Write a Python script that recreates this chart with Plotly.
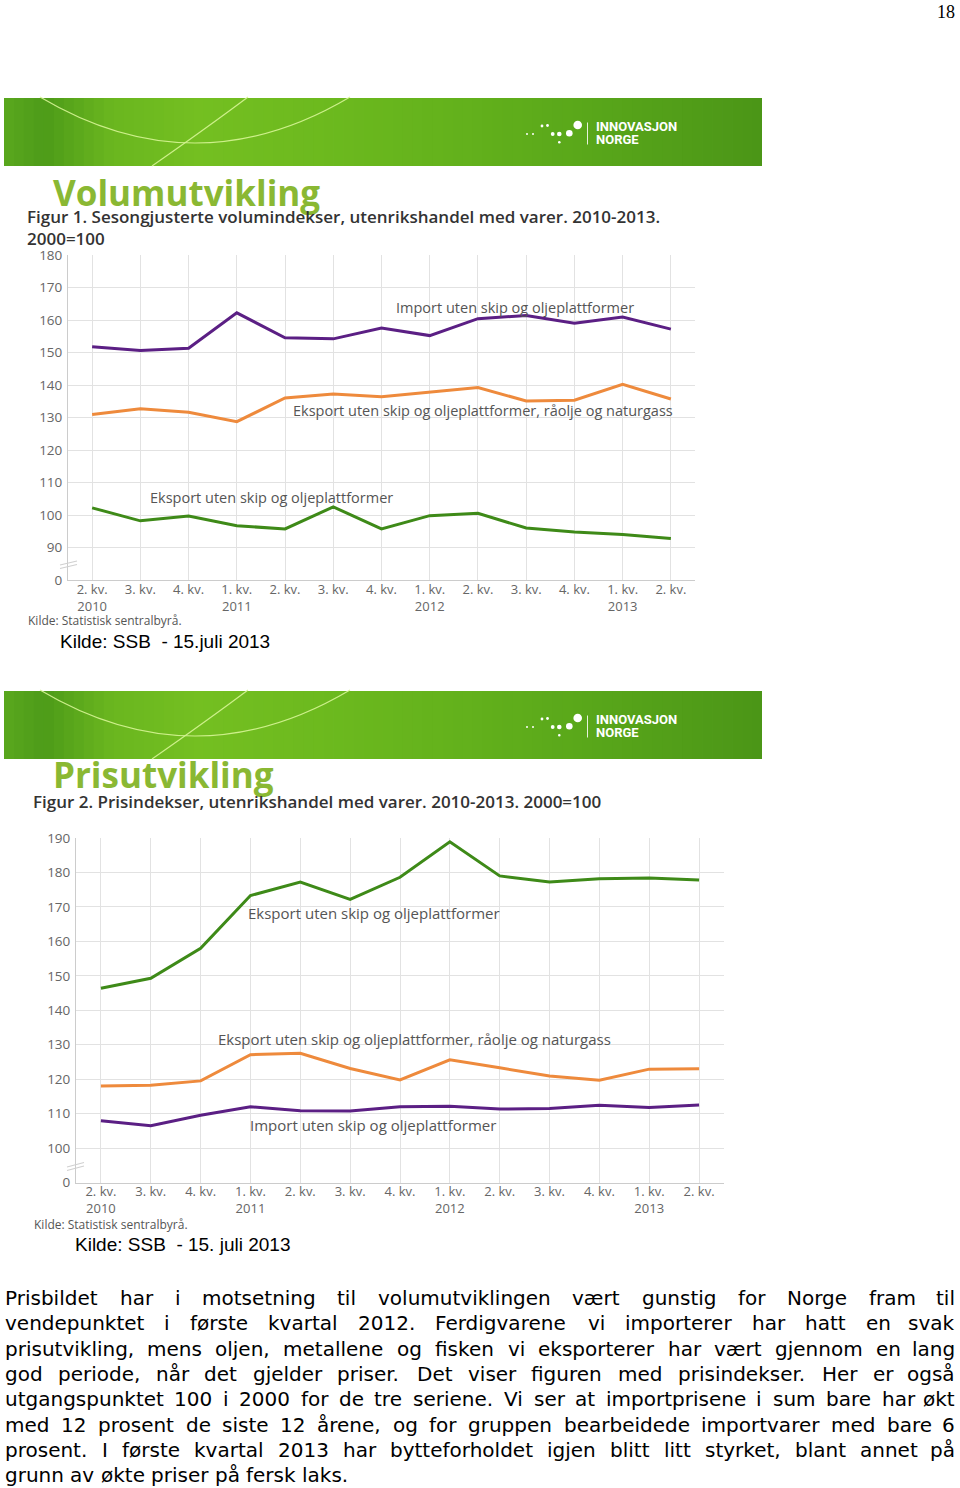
import plotly.graph_objects as go

W, H = 960, 1488


def px(x):
    return x / W


def py(y):
    return 1 - y / H


# ---------------- data ----------------
quarters = ["2. kv.", "3. kv.", "4. kv.", "1. kv.", "2. kv.", "3. kv.", "4. kv.",
            "1. kv.", "2. kv.", "3. kv.", "4. kv.", "1. kv.", "2. kv."]
years = ["2010", "", "", "2011", "", "", "", "2012", "", "", "", "2013", ""]

label_import = "Import uten skip og oljeplattformer"
label_eksport_total = "Eksport uten skip og oljeplattformer, råolje og naturgass"
label_eksport = "Eksport uten skip og oljeplattformer"

# Figur 1 - volumindekser
vol_import = [151.8, 150.6, 151.3, 162.2, 154.5, 154.2, 157.5, 155.2, 160.4, 161.4, 159.0, 160.9, 157.2]
vol_eksport_total = [130.9, 132.7, 131.6, 128.7, 136.0, 137.2, 136.4, 137.8, 139.2, 135.1, 135.3, 140.2, 135.7]
vol_eksport = [102.2, 98.2, 99.7, 96.7, 95.7, 102.5, 95.7, 99.8, 100.5, 96.0, 94.8, 94.0, 92.8]
vol_tickvals = [80, 90, 100, 110, 120, 130, 140, 150, 160, 170, 180]
vol_ticktext = ["0", "90", "100", "110", "120", "130", "140", "150", "160", "170", "180"]

# Figur 2 - prisindekser
pris_eksport = [146.4, 149.3, 158.0, 173.3, 177.2, 172.2, 178.6, 188.9, 179.0, 177.2, 178.2, 178.4, 177.8]
pris_eksport_total = [118.0, 118.2, 119.5, 127.1, 127.5, 123.1, 119.8, 125.6, 123.3, 120.9, 119.7, 122.9, 123.0]
pris_import = [107.9, 106.5, 109.5, 112.0, 110.8, 110.75, 112.0, 112.1, 111.3, 111.5, 112.4, 111.8, 112.5]
pris_tickvals = [90, 100, 110, 120, 130, 140, 150, 160, 170, 180, 190]
pris_ticktext = ["0", "100", "110", "120", "130", "140", "150", "160", "170", "180", "190"]

paragraph_lines = [
    "Prisbildet har i motsetning til volumutviklingen vært gunstig for Norge fram til",
    "vendepunktet i første kvartal 2012. Ferdigvarene vi importerer har hatt en svak",
    "prisutvikling, mens oljen, metallene og fisken vi eksporterer har vært gjennom en lang",
    "god periode, når det gjelder priser. Det viser figuren med prisindekser. Her er også",
    "utgangspunktet 100 i 2000 for de tre seriene. Vi ser at importprisene i sum bare har økt",
    "med 12 prosent de siste 12 årene, og for gruppen bearbeidede importvarer med bare 6",
    "prosent. I første kvartal 2013 har bytteforholdet igjen blitt litt styrket, blant annet på",
    "grunn av økte priser på fersk laks.",
]

# ---------------- styles ----------------
C_PURPLE = "#5b1f84"
C_ORANGE = "#ee8a3c"
C_GREEN = "#3e8a18"
GRID = "#e2e2e2"
YTICK_FONT = dict(family="Open Sans", size=13.5, color="#666666")
XTICK_FONT = dict(family="Open Sans", size=13, color="#666666")
LAB_FONT = dict(family="Open Sans", size=14.5, color="#555555")

fig = go.Figure()
xs = list(range(len(quarters)))
xticktext = [q + ("<br>" + y if y else "") for q, y in zip(quarters, years)]

for ys, col in [(vol_import, C_PURPLE), (vol_eksport_total, C_ORANGE), (vol_eksport, C_GREEN)]:
    fig.add_trace(go.Scatter(x=xs, y=ys, mode="lines", line=dict(color=col, width=3),
                             xaxis="x", yaxis="y", hoverinfo="skip", showlegend=False))
for ys, col in [(pris_eksport, C_GREEN), (pris_eksport_total, C_ORANGE), (pris_import, C_PURPLE)]:
    fig.add_trace(go.Scatter(x=xs, y=ys, mode="lines", line=dict(color=col, width=3),
                             xaxis="x2", yaxis="y2", hoverinfo="skip", showlegend=False))

common_x = dict(range=[-0.5, 12.5], tickmode="array", tickvals=xs, ticktext=xticktext,
                showgrid=True, gridcolor=GRID, gridwidth=1, showline=True, linecolor="#cccccc",
                linewidth=1, ticks="", tickfont=XTICK_FONT, zeroline=False, fixedrange=True,
                ticklabelstandoff=-3, automargin=False)
common_y = dict(tickmode="array", showgrid=True, gridcolor=GRID, gridwidth=1, showline=True,
                linecolor="#cccccc", linewidth=1, ticks="", tickfont=YTICK_FONT, zeroline=False,
                fixedrange=True, ticklabelstandoff=2, automargin=False)

fig.update_layout(
    xaxis=dict(domain=[px(68), px(695)], anchor="y", **common_x),
    yaxis=dict(domain=[py(580), py(255)], anchor="x", range=[80, 180],
               tickvals=vol_tickvals, ticktext=vol_ticktext, **common_y),
    xaxis2=dict(domain=[px(76), px(724)], anchor="y2", **common_x),
    yaxis2=dict(domain=[py(1182.5), py(838)], anchor="x2", range=[90, 190],
                tickvals=pris_tickvals, ticktext=pris_ticktext, **common_y),
)

shapes = []
annotations = []


def ann(x, y, text, font, xanchor="left", yanchor="middle", **kw):
    d = dict(x=px(x), y=py(y), xref="paper", yref="paper", text=text, showarrow=False,
             font=font, xanchor=xanchor, yanchor=yanchor, borderpad=0)
    d.update(kw)
    annotations.append(d)


# ---------------- banners ----------------
stops = [(4, (0x5a, 0xa7, 0x1e)), (45, (0x4d, 0x9b, 0x19)), (110, (0x6a, 0xb6, 0x1f)),
         (200, (0x74, 0xbf, 0x21)), (330, (0x6c, 0xb9, 0x1e)), (450, (0x64, 0xb2, 0x1c)),
         (600, (0x58, 0xa6, 0x1a)), (762, (0x4b, 0x96, 0x17))]


def grad(x):
    for (x0, c0), (x1, c1) in zip(stops[:-1], stops[1:]):
        if x0 <= x <= x1:
            t = (x - x0) / (x1 - x0)
            return "rgb(%d,%d,%d)" % tuple(round(a + (b - a) * t) for a, b in zip(c0, c1))
    return "rgb(%d,%d,%d)" % stops[-1][1]


def banner(top):
    bot = top + 68
    n = 76
    x0, x1 = 4, 762
    step = (x1 - x0) / n
    for i in range(n):
        a = x0 + i * step
        b = min(x1, a + step + 0.8)
        shapes.append(dict(type="rect", xref="paper", yref="paper", x0=px(a), x1=px(b),
                           y0=py(bot), y1=py(top), fillcolor=grad(a + step / 2),
                           line=dict(width=0), layer="below"))
    arc = "M %f,%f Q %f,%f %f,%f" % (px(40), py(top - 1), px(195), py(top + 91), px(350), py(top - 1))
    diag = "M %f,%f Q %f,%f %f,%f" % (px(152), py(bot), px(208), py(top + 29), px(248), py(top - 1))
    for p in (arc, diag):
        shapes.append(dict(type="path", xref="paper", yref="paper", path=p,
                           line=dict(color="rgba(215,245,150,0.9)", width=1.2)))
    dots = [(527, 134, 1.0), (533, 134, 1.0), (542, 126, 1.4), (547.5, 125.5, 1.4),
            (552.7, 134, 1.9), (559.3, 134, 2.3), (559.3, 142.3, 1.3), (569.3, 133.3, 3.3),
            (577.7, 125, 4.3)]
    off = top - 98
    for (cx, cy, r) in dots:
        shapes.append(dict(type="circle", xref="paper", yref="paper",
                           x0=px(cx - r), x1=px(cx + r), y0=py(cy + off + r), y1=py(cy + off - r),
                           fillcolor="white", line=dict(width=0)))
    shapes.append(dict(type="line", xref="paper", yref="paper", x0=px(587.5), x1=px(587.5),
                       y0=py(122.5 + off), y1=py(144.5 + off),
                       line=dict(color="rgba(255,255,255,0.85)", width=1)))
    lf = dict(family="Roboto", size=13, color="white")
    ann(594.5, 126.5 + off, "<b>INNOVASJON</b>", lf)
    ann(594.5, 139.5 + off, "<b>NORGE</b>", lf)


banner(98)
banner(691)

# ---------------- titles ----------------
TITLE_FONT = dict(family="Open Sans", size=35, color="#8ab833")
FIG_FONT = dict(family="Open Sans", size=17, color="#333333", weight=600)
ann(52, 193, "<b>Volumutvikling</b>", TITLE_FONT)
ann(26, 228, "Figur 1. Sesongjusterte volumindekser, utenrikshandel med varer. 2010-2013.<br>2000=100",
    FIG_FONT, align="left")
ann(52, 774, "<b>Prisutvikling</b>", TITLE_FONT)
ann(32, 801, "Figur 2. Prisindekser, utenrikshandel med varer. 2010-2013. 2000=100", FIG_FONT)

# ---------------- series labels ----------------
ann(514.5, 307, label_import, LAB_FONT, xanchor="center")
ann(483, 411, label_eksport_total, LAB_FONT, xanchor="center")
ann(271.5, 497, label_eksport, LAB_FONT, xanchor="center")
LAB2 = dict(LAB_FONT, size=15)
ann(373.5, 913, label_eksport, LAB2, xanchor="center")
ann(414, 1039, label_eksport_total, LAB2, xanchor="center")
ann(372.5, 1125, label_import, LAB2, xanchor="center")

# axis break marks
for (x0, y0, x1, y1) in [(60, 565, 77, 561), (60, 568.5, 77, 564.5),
                         (67, 1167, 84, 1162.5), (67, 1170.5, 84, 1166)]:
    shapes.append(dict(type="line", xref="paper", yref="paper", x0=px(x0), y0=py(y0),
                       x1=px(x1), y1=py(y1), line=dict(color="#d0d0d0", width=1.2)))

# sources
SRC_SMALL = dict(family="Open Sans", size=12, color="#555555")
SRC_BIG = dict(family="Liberation Sans", size=19, color="#000000")
ann(27, 620, "Kilde: Statistisk sentralbyrå.", SRC_SMALL)
ann(59, 642, "Kilde: SSB  - 15.juli 2013", SRC_BIG)
ann(33, 1224, "Kilde: Statistisk sentralbyrå.", SRC_SMALL)
ann(74, 1244, "Kilde: SSB  - 15. juli 2013", SRC_BIG)

# page number
ann(956, 12, "18", dict(family="Liberation Serif", size=18, color="#000000"), xanchor="right")

# ---------------- justified paragraph ----------------
DV = {' ': 651, ',': 651, '.': 651, '-': 739, '=': 1716,
      'a': 1255, 'b': 1300, 'c': 1126, 'd': 1300, 'e': 1260, 'f': 721, 'g': 1300, 'h': 1298,
      'i': 569, 'j': 569, 'k': 1186, 'l': 569, 'm': 1995, 'n': 1298, 'o': 1253, 'p': 1300,
      'q': 1300, 'r': 842, 's': 1067, 't': 803, 'u': 1298, 'v': 1212, 'w': 1675, 'x': 1212,
      'y': 1212, 'z': 1075, 'æ': 2011, 'ø': 1253, 'å': 1255,
      'P': 1235, 'N': 1532, 'F': 1178, 'D': 1577, 'H': 1540, 'I': 604, 'V': 1401, 'C': 1430}


def em(s):
    return sum(DV.get(c, 1303 if c.isdigit() else 1250) for c in s) / 2048.0


LEFT, RIGHT = 4, 956
span = RIGHT - LEFT
sizes = []
for line in paragraph_lines[:-1]:
    w = line.split()
    sizes.append(span / (sum(em(t) for t in w) + 0.26 * (len(w) - 1)))
S = min(20.0, min(sizes))
PF = dict(family="DejaVu Sans", size=S, color="#000000")
line_y = [1298, 1323.3, 1348.6, 1373.9, 1399.2, 1424.5, 1449.8, 1475.1]
for k, line in enumerate(paragraph_lines):
    words = line.split()
    widths = [em(t) * S for t in words]
    if k < len(paragraph_lines) - 1:
        gap = (span - sum(widths)) / (len(words) - 1)
    else:
        gap = em(' ') * S
    x = LEFT
    for j, (t, wdt) in enumerate(zip(words, widths)):
        if k < len(paragraph_lines) - 1 and j == len(words) - 1:
            ann(RIGHT, line_y[k], t, PF, xanchor="right")
        else:
            ann(x, line_y[k], t, PF)
        x += wdt + gap

fig.update_layout(
    width=W, height=H, autosize=False,
    margin=dict(l=0, r=0, t=0, b=0, pad=0, autoexpand=False),
    paper_bgcolor="white", plot_bgcolor="white",
    shapes=shapes, annotations=annotations,
    showlegend=False,
)

fig.write_html("out.html", config={"displayModeBar": False, "staticPlot": True},
               post_script="document.body.style.margin='0';")
